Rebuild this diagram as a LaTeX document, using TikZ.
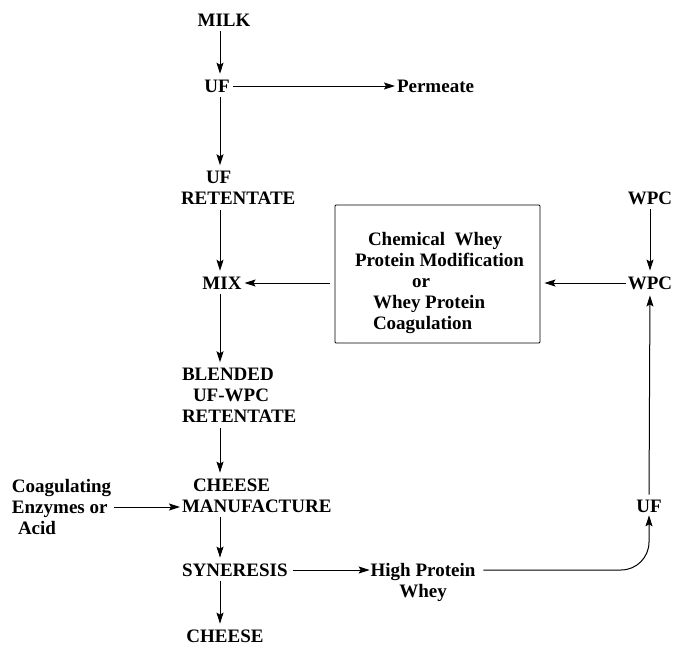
\documentclass[tikz,border=0pt]{standalone}
\usepackage{fontspec}
\setmainfont{Liberation Serif}
\usetikzlibrary{arrows.meta}
\begin{document}
\begin{tikzpicture}[x=1pt,y=-1pt,
  txt/.style={inner sep=0pt, outer sep=0pt, font=\bfseries\fontsize{19}{21}\selectfont},
  ml/.style={txt, align=left, anchor=west},
  arr/.style={line width=1pt, -{Stealth[length=11pt,width=7pt,inset=2pt]}},
  vert/.style={arr, shorten <=5pt, shorten >=6pt},
  horz/.style={arr, shorten <=3pt, shorten >=2pt},
  boxstyle/.style={draw, line width=0.9pt, rounded corners=1pt, minimum width=205pt, minimum height=138pt, inner sep=0pt}]
\useasboundingbox (0,0) rectangle (676,645);
\coordinate (col) at (220,0);
\node[txt] (milk) at (224,20) {MILK};
\node[txt] (uf1) at (217,86) {UF};
\node[txt, anchor=west] (perm) at (397,86) {Permeate};
\node[ml] (ufret) at (181,188) {\hspace*{25pt}UF\\RETENTATE};
\node[txt] (wpc1) at (650,198) {WPC};
\node[txt] (mix) at (222,283) {MIX};
\node[boxstyle] (box) at (437.5,274) {};
\node[ml] (boxtxt) at (355,283)
  {\hspace*{13pt}Chemical\ \ Whey\\Protein Modification\\\hspace*{57pt}or\\\hspace*{18pt}Whey Protein\\\hspace*{18pt}Coagulation};
\node[txt] (wpc2) at (650,283) {WPC};
\node[ml] (blend) at (182,395.5) {BLENDED\\\hspace*{11pt}UF-WPC\\RETENTATE};
\node[ml] (manu) at (182,495.5) {\hspace*{11pt}CHEESE\\MANUFACTURE};
\node[ml] (coag) at (12,507) {Coagulating\\Enzymes or\\\hspace*{6pt}Acid};
\node[ml] (syn) at (182,570) {SYNERESIS};
\node[txt, align=center] (hpw) at (423,582.5) {High Protein\\Whey};
\node[txt] (cheese) at (225,636) {CHEESE};
\node[txt] (uf2) at (649,506) {UF};

\draw[vert] (col |- milk.south) -- (col |- uf1.north);
\draw[horz] (uf1.east) -- (perm.west);
\draw[vert] (col |- uf1.south) -- (col |- ufret.north);
\draw[vert] (col |- ufret.south) -- (col |- mix.north);
\draw[horz, shorten <=5pt, shorten >=3pt] (box.west |- mix) -- (mix.east);
\draw[horz, shorten <=2pt, shorten >=4pt] (wpc2.west) -- (box.east |- wpc2);
\draw[vert] (wpc1.south) -- (wpc2.north);
\draw[vert] (uf2.north) -- (wpc2.south);
\draw[vert] (col |- mix.south) -- (col |- blend.north);
\draw[vert] (col |- blend.south) -- (col |- manu.north);
\draw[horz] (coag.east) -- (manu.west |- coag.east);
\draw[vert] (col |- manu.south) -- (col |- syn.north);
\draw[vert] (col |- syn.south) -- (col |- cheese.north);
\draw[horz, shorten <=5pt, shorten >=1pt] (syn.east) -- (hpw.west |- syn.east);
\draw[arr, rounded corners=28pt, shorten <=8pt, shorten >=3pt] (hpw.east |- syn.east) -- (uf2.south |- syn.east) -- (uf2.south);
\end{tikzpicture}
\end{document}
